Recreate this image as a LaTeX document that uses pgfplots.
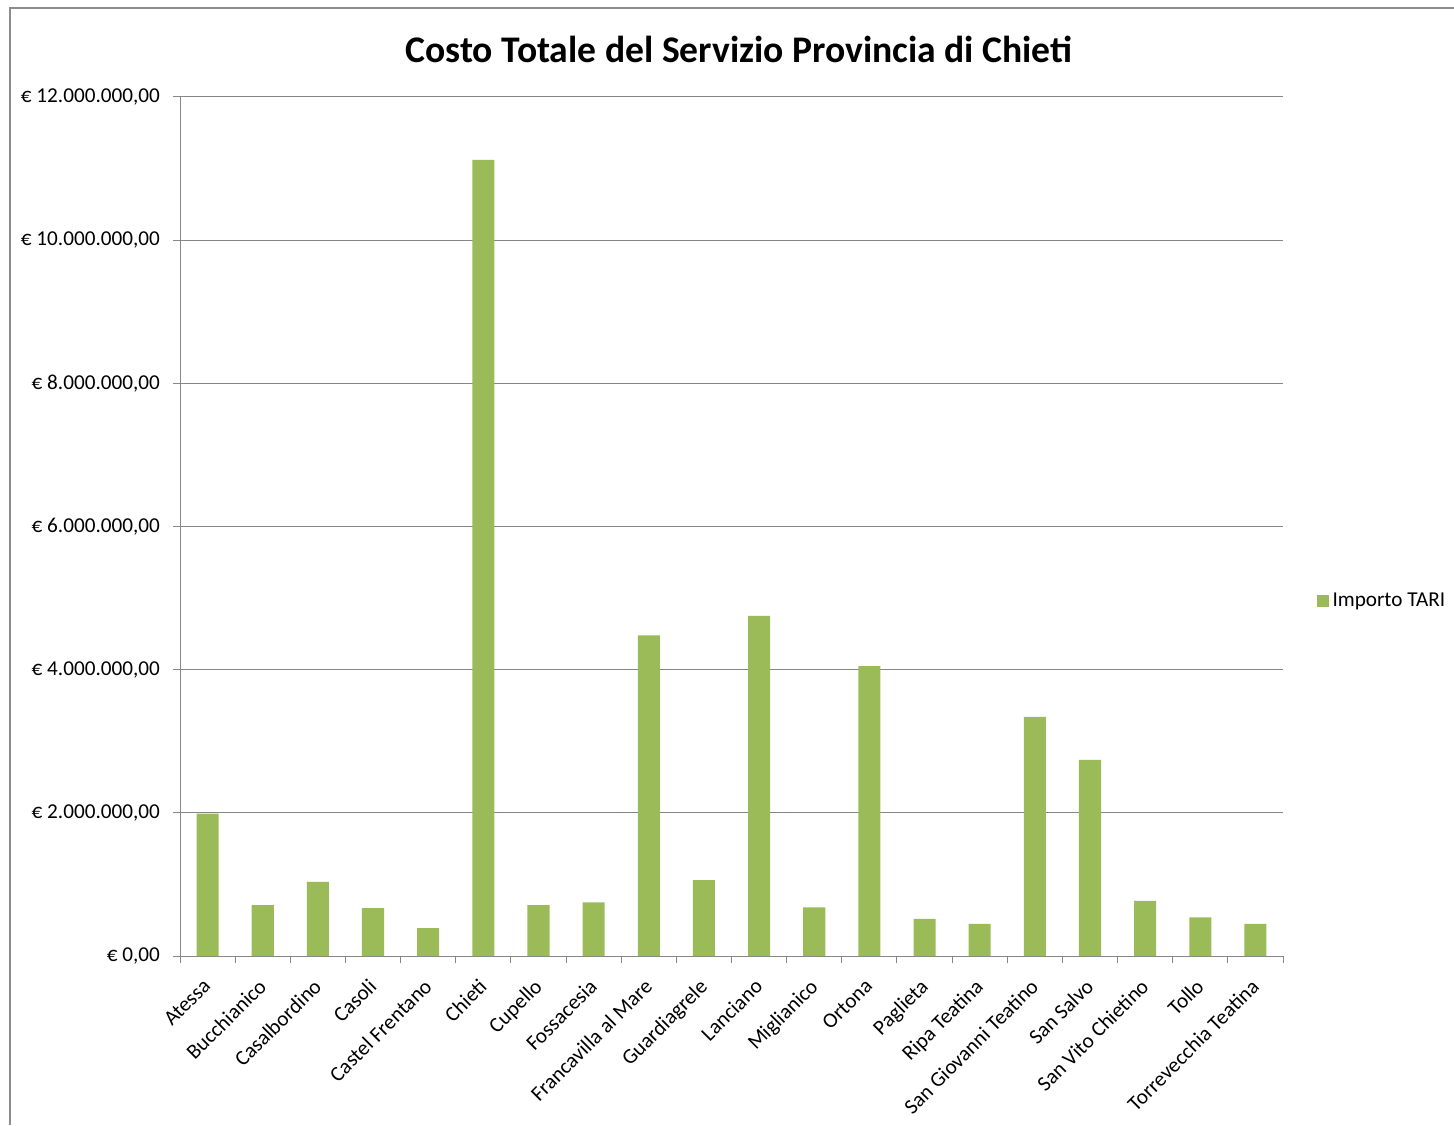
\documentclass[border=0pt]{standalone}
\usepackage{pgfplots}
\pgfplotsset{compat=1.18}
\usepackage{fontspec}
\setmainfont{Carlito}
\definecolor{bargreen}{HTML}{9BBB59}
\definecolor{axgray}{HTML}{868686}
\definecolor{framegray}{HTML}{8C8C8C}
\begin{document}
\begin{tikzpicture}
\useasboundingbox (0,0) rectangle (727pt,562.5pt);
\draw[framegray, line width=1pt] (5pt,0) -- (5pt,558.5pt) -- (727pt,558.5pt);
\node[font=\bfseries\fontsize{18.8}{22}\selectfont] at (369.5pt,538pt) {Costo Totale del Servizio Provincia di Chieti};
\begin{axis}[
  at={(90pt,84.5pt)}, anchor=south west,
  scale only axis, width=551.5pt, height=429.5pt,
  xmin=-0.5, xmax=19.5, ymin=0, ymax=12000000,
  axis x line=bottom, axis y line=left,
  axis line style={axgray, -},
  every axis x line/.append style={-}, every axis y line/.append style={-},
  ytick={0,2000000,4000000,6000000,8000000,10000000,12000000},
  yticklabels={{€ 0,00},{€ 2.000.000,00},{€ 4.000.000,00},{€ 6.000.000,00},{€ 8.000.000,00},{€ 10.000.000,00},{€ 12.000.000,00}},
  ymajorgrids, grid style={axgray, line width=0.5pt},
  tick align=outside, major tick length=3.5pt, minor tick length=3.5pt,
  tick style={axgray, line width=0.5pt},
  xtick={0,...,19},
  major x tick style={draw=none},
  minor xtick={-0.5,0.5,...,19.5},
  xticklabels={Atessa,Bucchianico,Casalbordino,Casoli,Castel Frentano,Chieti,Cupello,Fossacesia,Francavilla al Mare,Guardiagrele,Lanciano,Miglianico,Ortona,Paglieta,Ripa Teatina,San Giovanni Teatino,San Salvo,San Vito Chietino,Tollo,Torrevecchia Teatina},
  xticklabel style={rotate=45, anchor=north east, font=\fontsize{10.6}{12}\selectfont, inner sep=1pt, xshift=-6pt, yshift=-2pt},
  yticklabel style={font=\fontsize{10.6}{12}\selectfont, xshift=-3pt},
  scaled y ticks=false,
  legend style={at={(1.03,0.413)}, anchor=west, draw=none, fill=none, font=\fontsize{10.6}{12}\selectfont, inner sep=0pt},
  legend image code/.code={\fill[bargreen] (0pt,-3pt) rectangle (6pt,3pt);},
  legend cell align=left,
]
\addplot[ybar, bar width=0.4, fill=bargreen, draw=none] coordinates {
(0,1990000) (1,710000) (2,1035000) (3,670000) (4,390000) (5,11120000) (6,710000) (7,750000) (8,4480000) (9,1060000)
(10,4750000) (11,680000) (12,4050000) (13,520000) (14,450000) (15,3340000) (16,2740000) (17,770000) (18,540000) (19,450000)
};
\addlegendentry{Importo TARI}
\end{axis}
\end{tikzpicture}
\end{document}
